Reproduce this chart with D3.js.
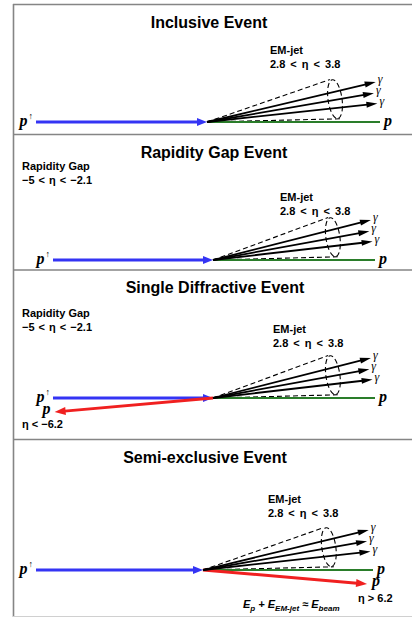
<!DOCTYPE html>
<html lang="en">
<head>
<meta charset="UTF-8">
<script src="https://cdn.jsdelivr.net/npm/d3@7"></script>
<style>body{margin:0;background:#fff;overflow:hidden}</style>
</head>
<body>
<script>
// event types, one panel each
var titles = ["Inclusive Event", "Rapidity Gap Event", "Single Diffractive Event", "Semi-exclusive Event"];
var jetLines = ["EM-jet", "2.8 < η < 3.8"];
var gapLines = ["Rapidity Gap", "\u22125 < η < \u22122.1"];
var hasGap = [false, true, true, false];
var outEta = [null, null, "η < \u22126.2", "η > 6.2"];
// photon tips, in beam units (u along beam, v across)
var photonU = [0.975, 0.965, 0.985];
var photonV = [1.0, 0.72, 0.46];
// jet cone: upper / lower dashed edges
var coneU = [0.71, 0.77];
var coneV = [1.06, 0.08];
// scattered proton direction (u sign gives side)
var outU = [null, null, -0.99, 0.965];
var outV = [null, null, -0.35, -0.35];

// layout
var width = 412, height = 617;
var panelTop = [4.5, 134.5, 270, 439.5];
var beamY = [122, 260, 398, 570];
var blueStart = [36, 53, 53, 36];
var origin = [207, 213, 213, 203];
var greenEnd = [380, 375, 375, 373];
var titleX = [209, 214, 215, 205];
var jetX = [270, 280, 273, 268];
var jetY = [54, 201, 333, 503];
var gapY = [null, 170, 317, null];

var svg = d3.select('body').append('svg')
  .attr('width', width)
  .attr('height', height);

var sans = "'Liberation Sans', Arial, sans-serif";
var serif = "'Liberation Serif', 'Times New Roman', serif";

// frame
var frame = svg.append('g').attr('stroke', '#858585').attr('stroke-width', 1.6);
frame.append('line').attr('x1', 13.5).attr('x2', 13.5).attr('y1', 4).attr('y2', height);
panelTop.forEach(function(t) {
  frame.append('line').attr('x1', 13).attr('x2', width).attr('y1', t).attr('y2', t);
});
svg.append('line').attr('x1', 13).attr('x2', width).attr('y1', 616.5).attr('y2', 616.5)
  .attr('stroke', '#d0d0d0').attr('stroke-width', 1);

function arrow(g, x1, y1, x2, y2, color, sw, len, wid) {
  var dx = x2 - x1, dy = y2 - y1, L = Math.sqrt(dx * dx + dy * dy);
  var ux = dx / L, uy = dy / L;
  var bx = x2 - ux * len, by = y2 - uy * len;
  g.append('line')
    .attr('x1', x1).attr('y1', y1)
    .attr('x2', bx + ux * 1).attr('y2', by + uy * 1)
    .attr('stroke', color).attr('stroke-width', sw);
  g.append('path')
    .attr('d', 'M' + x2 + ',' + y2 +
      'L' + (bx - uy * wid / 2) + ',' + (by + ux * wid / 2) +
      'L' + (bx + uy * wid / 2) + ',' + (by - ux * wid / 2) + 'Z')
    .attr('fill', color);
}

function pLabel(g, x, y, anchor, up) {
  var t = g.append('text').attr('x', x).attr('y', y)
    .attr('text-anchor', anchor)
    .style('font-family', serif).style('font-style', 'italic')
    .style('font-weight', 'bold').style('font-size', '16px')
    .text('p');
  if (up) {
    t.append('tspan').attr('dy', -7).attr('dx', 1)
      .style('font-size', '9px').style('font-style', 'normal').style('font-weight', 'normal')
      .text('\u2191');
  }
}

titles.forEach(function(title, i) {
  var g = svg.append('g');
  var x = d3.scaleLinear().domain([-1, 0, 1]).range([blueStart[i], origin[i], greenEnd[i]]);
  var y = d3.scaleLinear().domain([0, 1]).range([beamY[i], beamY[i] - 40]);

  g.append('text')
    .attr('x', titleX[i]).attr('y', panelTop[i] + 23)
    .attr('text-anchor', 'middle')
    .style('font-family', sans).style('font-weight', 'bold').style('font-size', '16px')
    .text(title);

  // dashed jet cone
  var cone = g.append('g').attr('stroke', '#000').attr('stroke-width', 1.1)
    .attr('stroke-dasharray', '5,3').attr('fill', 'none');
  cone.append('line').attr('x1', x(0)).attr('y1', y(0))
    .attr('x2', x(coneU[0])).attr('y2', y(coneV[0]));
  cone.append('line').attr('x1', x(0)).attr('y1', y(0))
    .attr('x2', x(coneU[1])).attr('y2', y(coneV[1]));
  var ecx = (x(coneU[0]) + x(coneU[1])) / 2;
  var ecy = (y(coneV[0]) + y(coneV[1])) / 2;
  cone.append('ellipse')
    .attr('cx', ecx).attr('cy', ecy)
    .attr('rx', 7).attr('ry', (y(coneV[1]) - y(coneV[0])) / 2)
    .attr('transform', 'rotate(-8,' + ecx + ',' + ecy + ')');

  // beams
  g.append('line').attr('x1', x(0)).attr('y1', y(0))
    .attr('x2', x(1)).attr('y2', y(0))
    .attr('stroke', '#2a7d2a').attr('stroke-width', 2);
  arrow(g, x(-1), y(0), x(0), y(0), '#3434f4', 3, 10, 8);

  // scattered proton
  if (outU[i] !== null) {
    arrow(g, x(0), y(0), x(outU[i]), y(outV[i]), '#f02020', 3, 11, 8);
  }

  // photons
  photonU.forEach(function(u, k) {
    arrow(g, x(0), y(0), x(u), y(photonV[k]), '#000', 1.8, 11, 6);
    g.append('text')
      .attr('x', x(u) + 2).attr('y', y(photonV[k]) + 1)
      .style('font-family', serif).style('font-style', 'italic').style('font-size', '12px')
      .text('\u03b3');
  });

  pLabel(g, x(-1) - 3, y(0) + 4, 'end', true);
  pLabel(g, x(1) + 4, y(0) + 4, 'start', false);

  var bold = function(sel) {
    return sel.style('font-family', sans).style('font-weight', 'bold').style('font-size', '11px');
  };
  jetLines.forEach(function(s, k) {
    bold(g.append('text')).attr('x', jetX[i]).attr('y', jetY[i] + k * 13.5)
      .style('word-spacing', k ? '2px' : '0px').text(s);
  });
  if (hasGap[i]) {
    gapLines.forEach(function(s, k) {
      bold(g.append('text')).attr('x', 22).attr('y', gapY[i] + k * 14)
        .style('word-spacing', k ? '1px' : '0px').text(s);
    });
  }

  if (outEta[i] !== null) {
    var px = x(outU[i]), py = y(outV[i]);
    if (outU[i] < 0) {
      pLabel(g, px - 12, py + 2, 'start', false);
      bold(g.append('text')).attr('x', 22).attr('y', py + 16).text(outEta[i]);
    } else {
      pLabel(g, px + 5, py + 2, 'start', false);
      bold(g.append('text')).attr('x', px - 9).attr('y', py + 18).text(outEta[i]);
      var f = bold(g.append('text')).attr('x', 243).attr('y', py + 24).style('font-style', 'italic');
      f.append('tspan').text('E');
      f.append('tspan').attr('dy', 3).style('font-size', '8px').text('p');
      f.append('tspan').attr('dy', -3).text(' + E');
      f.append('tspan').attr('dy', 3).style('font-size', '8px').text('EM-jet');
      f.append('tspan').attr('dy', -3).text(' \u2248 E');
      f.append('tspan').attr('dy', 3).style('font-size', '8px').text('beam');
    }
  }
});
</script>
</body>
</html>
